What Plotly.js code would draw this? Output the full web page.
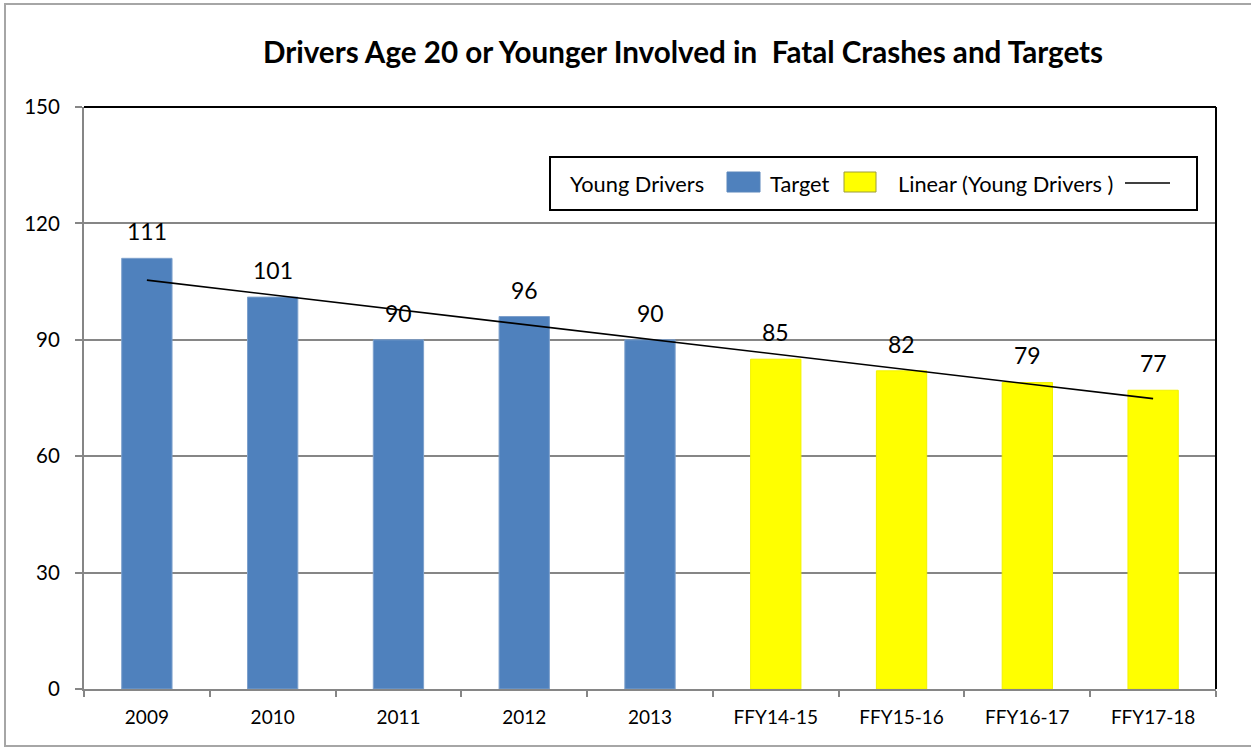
<!DOCTYPE html>
<html>
<head>
<meta charset="utf-8">
<script src="https://cdn.plot.ly/plotly-3.0.1.min.js"></script>
<style>html,body{margin:0;padding:0;background:#fff;}#chart{width:1251px;height:749px;}</style>
</head>
<body>
<div id="chart"></div>
<script>
// ---- data ----
const actualYears = ["2009", "2010", "2011", "2012", "2013"];
const actualValues = [111, 101, 90, 96, 90];
const targetPeriods = ["FFY14-15", "FFY15-16", "FFY16-17", "FFY17-18"];
const targetValues = [85, 82, 79, 77];
const yTicks = [0, 30, 60, 90, 120, 150];

const titleText = "Drivers Age 20 or Younger Involved in  Fatal Crashes and Targets";
const legendLabels = ["Young Drivers", "Target", "Linear (Young Drivers )"];

// ---- derived ----
const allCats = actualYears.concat(targetPeriods);
const allVals = actualValues.concat(targetValues);
// linear least-squares trend over the series
const n = allVals.length;
const xs = allVals.map((_, i) => i + 1);
const mx = xs.reduce((a, b) => a + b, 0) / n;
const my = allVals.reduce((a, b) => a + b, 0) / n;
let sxy = 0, sxx = 0;
for (let i = 0; i < n; i++) { sxy += (xs[i] - mx) * (allVals[i] - my); sxx += (xs[i] - mx) ** 2; }
const slope = sxy / sxx, icpt = my - slope * mx;
const trend = xs.map(x => icpt + slope * x);

const FONT = "Lato, 'Open Sans', sans-serif";
const BLUE = "#4F81BD", YELLOW = "#FFFF00";

// plot area pixel geometry (for legend/frame placement)
const L = 84, R = 1216, T = 107, B = 689;
const px = x => (x - L) / (R - L);
const py = y => (B - y) / (B - T);

const traces = [
  { type: "bar", x: actualYears, y: actualValues, name: legendLabels[0],
    marker: { color: BLUE, line: { color: "#7da0cc", width: 1 } }, hoverinfo: "x+y" },
  { type: "bar", x: targetPeriods, y: targetValues, name: legendLabels[1],
    marker: { color: YELLOW, line: { color: "#f2f200", width: 1 } }, hoverinfo: "x+y" },
  { type: "scatter", mode: "lines", x: allCats, y: trend, name: legendLabels[2],
    line: { color: "#000", width: 1.6 }, hoverinfo: "skip" }
];

// data labels: category axis positions are the category indices
const annotations = allCats.map((c, i) => ({
  x: i, y: allVals[i], xref: "x", yref: "y", text: String(allVals[i]),
  showarrow: false, yanchor: "bottom", yshift: 11,
  font: { family: FONT, size: 23, color: "#000" }
}));

// custom legend (text followed by symbol, as in the reference)
const legY = py(183);
const LEGFONT = { family: FONT, size: 21.8, color: "#000" };
annotations.push(
  { xref: "paper", yref: "paper", x: px(568), y: legY, xanchor: "left", yanchor: "middle", showarrow: false,
    text: legendLabels[0], font: LEGFONT },
  { xref: "paper", yref: "paper", x: px(768), y: legY, xanchor: "left", yanchor: "middle", showarrow: false,
    text: legendLabels[1], font: LEGFONT },
  { xref: "paper", yref: "paper", x: px(896), y: legY, xanchor: "left", yanchor: "middle", showarrow: false,
    text: legendLabels[2], font: LEGFONT }
);

const shapes = [
  // outer chart border
  { type: "rect", xref: "paper", yref: "paper", x0: px(5), x1: px(1260), y0: py(746), y1: py(4),
    line: { color: "#a6a6a6", width: 2 }, fillcolor: "rgba(0,0,0,0)", layer: "below" },
  // plot-area top and right border
  { type: "line", xref: "paper", yref: "paper", x0: 0, x1: 1, y0: 1, y1: 1, line: { color: "#000", width: 2 } },
  { type: "line", xref: "paper", yref: "paper", x0: 1, x1: 1, y0: 0, y1: 1, line: { color: "#000", width: 2 } },
  // legend box
  { type: "rect", xref: "paper", yref: "paper", x0: px(550), x1: px(1197), y0: py(210), y1: py(157),
    line: { color: "#000", width: 2 }, fillcolor: "#fff" },
  { type: "rect", xref: "paper", yref: "paper", x0: px(727), x1: px(760), y0: py(192), y1: py(172),
    line: { color: "#5b86bb", width: 1 }, fillcolor: BLUE },
  { type: "rect", xref: "paper", yref: "paper", x0: px(844), x1: px(876), y0: py(192), y1: py(172),
    line: { color: "#9c9c3a", width: 1 }, fillcolor: YELLOW },
  { type: "line", xref: "paper", yref: "paper", x0: px(1125), x1: px(1170), y0: legY, y1: legY,
    line: { color: "#000", width: 1.5 } }
];

const layout = {
  width: 1251, height: 749,
  margin: { l: L, r: 1251 - R, t: T, b: 749 - B, pad: 0 },
  paper_bgcolor: "#fff", plot_bgcolor: "#fff",
  showlegend: false,
  barmode: "overlay", bargap: 0.6,
  title: { text: "<b>" + titleText + "</b>", x: 683 / 1251, xanchor: "center",
    y: 1 - 53 / 749, yanchor: "middle", font: { family: FONT, size: 29.6, color: "#000" } },
  xaxis: {
    type: "category", categoryorder: "array", categoryarray: allCats,
    range: [-0.5, allCats.length - 0.5], autorange: false,
    showline: true, linecolor: "#868686", linewidth: 2,
    ticks: "outside", tickson: "boundaries", ticklen: 6, tickcolor: "#868686", tickwidth: 2,
    showgrid: false, zeroline: false, tickangle: 0,
    tickfont: { family: FONT, size: 19, color: "#000" }, ticklabelstandoff: 10,
    fixedrange: true
  },
  yaxis: {
    range: [0, 150], autorange: false, tickvals: yTicks, ticktext: yTicks.map(String),
    showline: true, linecolor: "#868686", linewidth: 2,
    ticks: "outside", ticklen: 7, tickcolor: "#868686", tickwidth: 2,
    showgrid: true, gridcolor: "#868686", gridwidth: 2, zeroline: false,
    tickfont: { family: FONT, size: 20.5, color: "#000" }, ticklabelstandoff: 11,
    fixedrange: true
  },
  annotations: annotations,
  shapes: shapes
};

Plotly.newPlot("chart", traces, layout, { displayModeBar: false, staticPlot: true });
</script>
</body>
</html>
